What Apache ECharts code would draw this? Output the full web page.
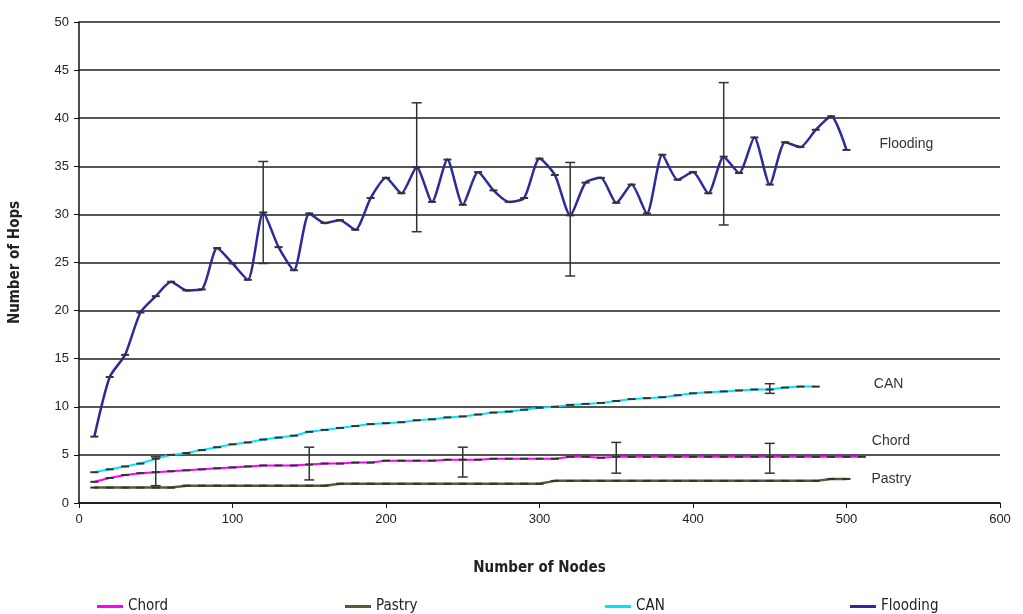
<!DOCTYPE html>
<html><head><meta charset="utf-8">
<script src="https://cdn.jsdelivr.net/npm/echarts@6/dist/echarts.min.js"></script>
<style>html,body{margin:0;padding:0;background:#fff}#c{width:1023px;height:614px}</style>
</head><body><div id="c"></div>
<script>
const nodes = [10,20,30,40,50,60,70,80,90,100,110,120,130,140,150,160,170,180,190,200,210,220,230,240,250,260,270,280,290,300,310,320,330,340,350,360,370,380,390,400,410,420,430,440,450,460,470,480,490,500,510];
const floodingHops = [6.9,13.1,15.4,19.8,21.5,23.0,22.1,22.2,26.5,24.9,23.2,30.2,26.6,24.2,30.1,29.1,29.4,28.4,31.7,33.8,32.2,34.9,31.3,35.7,31.0,34.4,32.5,31.3,31.7,35.8,34.1,29.9,33.3,33.8,31.2,33.1,30.1,36.2,33.6,34.4,32.2,36.0,34.3,38.0,33.1,37.5,37.0,38.8,40.2,36.7];
const canHops = [3.2,3.5,3.8,4.1,4.6,5.0,5.2,5.5,5.8,6.1,6.3,6.6,6.8,7.0,7.4,7.6,7.8,8.0,8.2,8.3,8.4,8.6,8.7,8.9,9.0,9.2,9.4,9.5,9.7,9.9,10.0,10.2,10.3,10.4,10.6,10.8,10.9,11.0,11.2,11.4,11.5,11.6,11.7,11.8,11.8,12.0,12.1,12.1];
const chordHops = [2.2,2.6,2.9,3.1,3.2,3.3,3.4,3.5,3.6,3.7,3.8,3.9,3.9,3.9,4.0,4.1,4.1,4.2,4.2,4.4,4.4,4.4,4.4,4.5,4.5,4.5,4.6,4.6,4.6,4.6,4.6,4.8,4.8,4.7,4.8,4.8,4.8,4.8,4.8,4.8,4.8,4.8,4.8,4.8,4.8,4.8,4.8,4.8,4.8,4.8,4.8];
const pastryHops = [1.6,1.6,1.6,1.6,1.6,1.6,1.8,1.8,1.8,1.8,1.8,1.8,1.8,1.8,1.8,1.8,2.0,2.0,2.0,2.0,2.0,2.0,2.0,2.0,2.0,2.0,2.0,2.0,2.0,2.0,2.3,2.3,2.3,2.3,2.3,2.3,2.3,2.3,2.3,2.3,2.3,2.3,2.3,2.3,2.3,2.3,2.3,2.3,2.5,2.5];
// error bars: [nodes, low, high]
const floodingErr = [[120,24.9,35.5],[220,28.2,41.6],[320,23.6,35.4],[420,28.9,43.7]];
const chordErr = [[50,1.8,4.8],[150,2.4,5.8],[250,2.7,5.8],[350,3.1,6.3],[450,3.1,6.2]];
const canErr = [[450,11.4,12.4]];
const xTicks = [0,100,200,300,400,500,600];
const yTicks = [0,5,10,15,20,25,30,35,40,45,50];

const pairs = v => v.map((y,i)=>[nodes[i],y]);
const FONT = "'Liberation Sans', Arial, sans-serif";
const NARROW = "'Liberation Sans Narrow','DejaVu Sans Condensed', sans-serif";
const COLORS = {Chord:'#ff00ff',Pastry:'#5a5a30',CAN:'#00e5ff',Flooding:'#2b2b9a'};

function errSeries(data){
  return {
    type:'custom', data:data, z:5, silent:true,
    renderItem:(p,api)=>{
      const x=api.value(0);
      const lo=api.coord([x,api.value(1)]), hi=api.coord([x,api.value(2)]);
      const st={stroke:'#333',lineWidth:1.5};
      return {type:'group',children:[
        {type:'line',shape:{x1:lo[0],y1:lo[1],x2:hi[0],y2:hi[1]},style:st},
        {type:'line',shape:{x1:lo[0]-5,y1:lo[1],x2:lo[0]+5,y2:lo[1]},style:st},
        {type:'line',shape:{x1:hi[0]-5,y1:hi[1],x2:hi[0]+5,y2:hi[1]},style:st}
      ]};
    }
  };
}
function lineSeries(name,vals,w,dist,off){
  return {
    name:name, type:'line', data:pairs(vals), smooth:name==='Flooding'?0.22:false,
    symbol:'rect', symbolSize:[8,2], showSymbol:true,
    itemStyle:{color:'#333'},
    lineStyle:{color:COLORS[name],width:w},
    endLabel:{show:true,formatter:name,distance:dist,offset:off,color:'#333',fontFamily:FONT,fontSize:14},
    z:3
  };
}
const chart = echarts.init(document.getElementById('c'));
function leg(name,left){
  return {data:[name],left:left,top:594,icon:'rect',itemWidth:26,itemHeight:3,itemGap:0,
    itemStyle:{color:COLORS[name],borderWidth:0},
    textStyle:{fontFamily:NARROW,fontSize:15,color:'#222'}};
}
chart.setOption({
  animation:false,
  backgroundColor:'#fff',
  grid:{left:78,right:23,top:22,bottom:111},
  xAxis:{type:'value',min:0,max:600,interval:100,
    name:'Number of Nodes',nameLocation:'middle',nameGap:58,
    nameTextStyle:{fontFamily:NARROW,fontWeight:'bold',fontSize:15,color:'#222'},
    axisLine:{lineStyle:{color:'#111',width:1.5}},
    axisTick:{show:true,length:5,lineStyle:{color:'#111'}},
    axisLabel:{fontFamily:FONT,fontSize:13,color:'#222',margin:10,formatter:v=>xTicks.includes(v)?String(v):''},
    splitLine:{show:false}},
  yAxis:{type:'value',min:0,max:50,interval:5,
    name:'Number of Hops',nameLocation:'middle',nameGap:56,nameRotate:90,
    nameTextStyle:{fontFamily:NARROW,fontWeight:'bold',fontSize:15,color:'#222'},
    axisLine:{show:true,lineStyle:{color:'#111',width:1.5}},
    axisTick:{show:true,length:5,lineStyle:{color:'#111'}},
    axisLabel:{fontFamily:FONT,fontSize:13,color:'#222',margin:10,formatter:v=>yTicks.includes(v)?String(v):''},
    splitLine:{show:true,lineStyle:{color:'#555',width:2}}},
  legend:[leg('Chord',92),leg('Pastry',340),leg('CAN',600),leg('Flooding',845)],
  series:[
    lineSeries('Chord',chordHops,2,10,[0,-16]),
    lineSeries('Pastry',pastryHops,2.5,25,[0,0]),
    lineSeries('CAN',canHops,2,58,[0,-2]),
    lineSeries('Flooding',floodingHops,2.5,33,[0,-6]),
    errSeries(floodingErr), errSeries(chordErr), errSeries(canErr)
  ]
});
</script></body></html>
